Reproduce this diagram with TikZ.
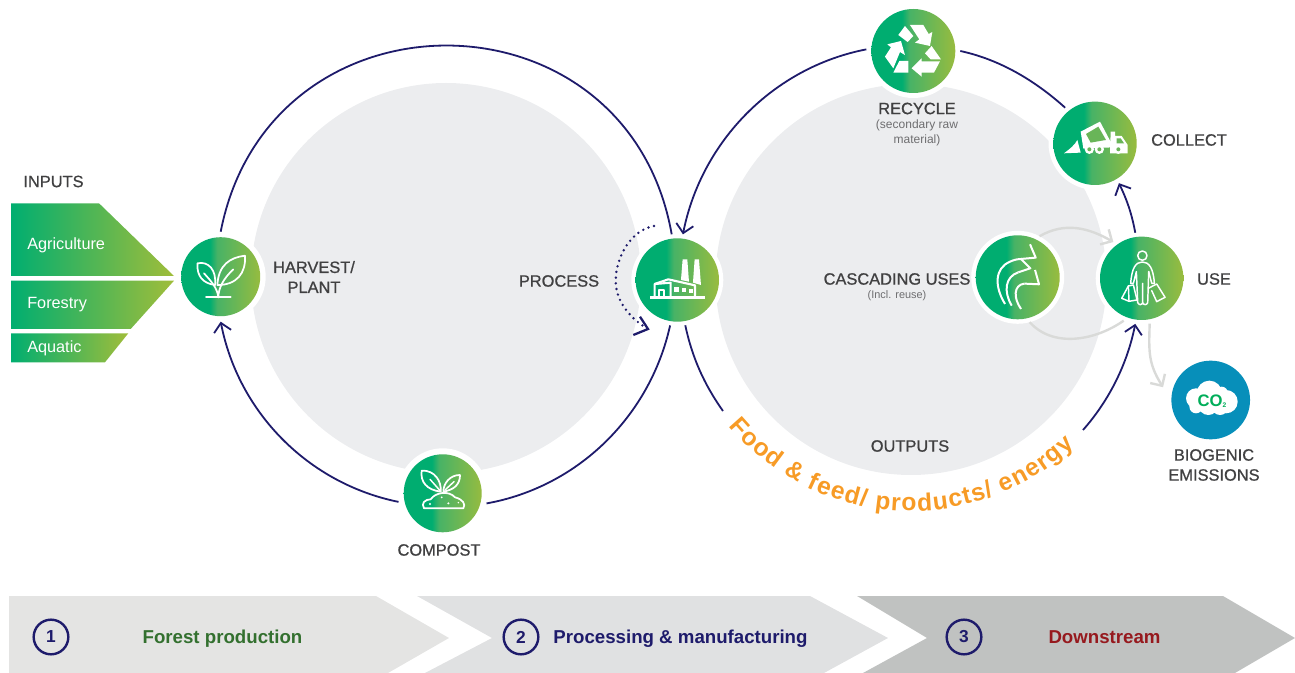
\documentclass[tikz,border=0pt]{standalone}
\usepackage{fontspec}
\usetikzlibrary{arrows.meta,decorations.text,calc}
\setmainfont{Liberation Sans}
\newfontfamily\labf[FakeBold=0.8]{Liberation Sans}
\newfontfamily\boldf{Liberation Sans Bold}
\definecolor{navyc}{RGB}{30,27,107}
\definecolor{greyd}{RGB}{236,237,239}
\definecolor{labc}{RGB}{64,64,65}
\definecolor{subc}{RGB}{110,110,112}
\definecolor{conn}{RGB}{217,218,216}
\definecolor{gstart}{RGB}{0,174,112}
\definecolor{gend}{RGB}{160,189,58}
\definecolor{gmid}{RGB}{105,181,88}
\definecolor{orangec}{RGB}{247,155,38}
\definecolor{coblue}{RGB}{7,143,186}
\definecolor{cogreen}{RGB}{0,174,90}
\definecolor{bandone}{RGB}{228,228,227}
\definecolor{bandtwo}{RGB}{224,225,226}
\definecolor{bandthree}{RGB}{192,194,193}
\pgfdeclarehorizontalshading{gf}{100bp}{rgb(0bp)=(0,0.68,0.44);rgb(25bp)=(0,0.68,0.44);rgb(44bp)=(0,0.68,0.44);rgb(48bp)=(0.28,0.70,0.40);rgb(75bp)=(0.63,0.74,0.23);rgb(100bp)=(0.63,0.74,0.23)}
\tikzset{
 x=0.75pt,y=0.75pt,
 disc/.style={fill=greyd,draw=none},
 ring/.style={draw=navyc,line width=1.35pt},
 ringa/.style={ring,-{Straight Barb[length=6.5pt,width=13pt,line width=1.35pt]}},
 greyc/.style={draw=conn,line width=1.8pt},
 greya/.style={greyc,-{Straight Barb[length=6.5pt,width=13pt,line width=1.8pt]}},
 gnode/.style args={#1 and #2}{circle,inner sep=0pt,outer sep=0pt,minimum size=#2*0.75pt*2,fill=white,
   path picture={\shade[shading=gf] (0,0) circle (#1*0.75pt);}},
 lab/.style={text=labc,font=\labf\fontsize{12.3pt}{15pt}\selectfont,inner sep=0pt,align=center},
 sublab/.style={text=subc,font=\fontsize{9pt}{11.2pt}\selectfont,inner sep=0pt,align=center},
 inlab/.style={text=white,font=\fontsize{12.2pt}{14pt}\selectfont,inner sep=0pt,anchor=west},
 bandtext/.style={font=\boldf\fontsize{14pt}{15pt}\selectfont,inner sep=0pt,anchor=base},
 numc/.style={circle,draw=navyc,line width=1.8pt,minimum size=26pt,inner sep=0pt,text=navyc,font=\boldf\fontsize{13pt}{15pt}\selectfont},
 ico/.style={draw=white,line width=1.3pt,line join=round,line cap=round},
 icot/.style={draw=white,line width=1.1pt,line join=round,line cap=round},
 icof/.style={fill=white,draw=none},
}
\newcommand{\inputshape}[1]{\shade[left color=gstart,right color=gend] #1;}
\begin{document}
\begin{tikzpicture}
\useasboundingbox (0,-673) rectangle (1295,0);
% grey discs
\fill[disc] (446,-278) circle (195);
\fill[disc] (911,-279.5) circle (195.5);
% named nodes
\node[gnode=39.5 and 45] (harvest) at (220.7,-276.7) {};
\node[gnode=41.7 and 46] (process) at (677.3,-280) {};
\node[gnode=39 and 45] (compost) at (442.7,-493.3) {};
\node[gnode=42 and 47] (recycle) at (913.3,-51) {};
\node[gnode=41.7 and 46.5] (collect) at (1095,-143.3) {};
\node[gnode=41.7 and 46] (use) at (1141.7,-278.3) {};
\node[gnode=42 and 46.5] (cascade) at (1017.7,-277.3) {};
\node[circle,fill=coblue,minimum size=59pt,inner sep=0pt,outer sep=7.5pt] (co2) at (1210.7,-400) {};
\coordinate (outl) at (723,-411);
\coordinate (outr) at (1083,-430);
\coordinate (dota) at (654,-226);
\coordinate (dotb) at (648,-329);
\coordinate (dotc) at (615.7,-281);
% rings
\draw[ring] (harvest.90) to[out=79,in=100,looseness=1.44] (process.97);
\draw[ringa] (compost.191) to[out=168.5,in=-79,looseness=.93] (harvest.-90);
\draw[ring] (process.-99) to[out=-102.5,in=10.2,looseness=.93] (compost.-13);
\draw[ringa] (recycle.178) to[out=191,in=78.8,looseness=.93] (process.83);
\draw[ring] (collect.130) to[out=138,in=-12.2,looseness=.87] (recycle.0);
\draw[ringa] (use.98) to[out=101,in=-65] (collect.-59);
\draw[ring] (process.-80) to[out=-78,in=125.3,looseness=.9] (outl);
\draw[ringa] (outr) to[out=48.5,in=258.6,looseness=.87] (use.-98);
\draw[draw=navyc,line width=2pt,line cap=round,dash pattern=on 0pt off 4.3pt] (dota) to[out=190,in=90,looseness=.9] (dotc) to[out=-90,in=150,looseness=.9] (dotb);
\draw[draw=navyc,line width=1.7pt] (633.3,-335) -- (dotb) -- (640,-316.7);
% grey connectors
\draw[greya] (cascade.62) to[out=30,in=150,looseness=1] (use.128);
\draw[greyc] (cascade.-75) to[out=-48,in=215,looseness=.95] (use.-113);
\draw[greya] (use.-80) to[out=-92,in=122,looseness=1.1] (co2.165);
% input shapes
\inputshape{(11,-203.3) -- (99,-203.3) -- (174,-276) -- (11,-276) -- cycle}
\inputshape{(11,-280.7) -- (174,-280.7) -- (130.7,-329) -- (11,-329) -- cycle}
\inputshape{(11,-333.3) -- (128.3,-333.3) -- (105,-362.3) -- (11,-362.3) -- cycle}
\node[inlab] (agri) at (27,-245.5) {Agriculture};
\node[inlab] (fore) at (27,-304.5) {Forestry};
\node[inlab] (aqua) at (27,-348.5) {Aquatic};
% labels
\node[lab] (inputs) at (53.5,-181.5) {INPUTS};
\node[lab] (harvestl) at (314,-277) {HARVEST/\\PLANT};
\node[lab] (processl) at (559,-281) {PROCESS};
\node[lab] (compostl) at (439,-550) {COMPOST};
\node[lab] (recyclel) at (917,-108.5) {RECYCLE};
\node[sublab] (recycles) at (917,-133) {(secondary raw\\material)};
\node[lab] (collectl) at (1189,-140) {COLLECT};
\node[lab] (casl) at (897,-279) {CASCADING USES};
\node[sublab,font=\fontsize{8.2pt}{10pt}\selectfont] (cass) at (897,-295.5) {(Incl. reuse)};
\node[lab] (usel) at (1214,-279) {USE};
\node[lab] (outputs) at (910,-446) {OUTPUTS};
\node[lab] (bio) at (1214,-465) {BIOGENIC\\EMISSIONS};
% curved text
\path[decorate,decoration={text along path,text format delimiters={|}{|},
  text={|\boldf\fontsize{18.5pt}{18.5pt}\selectfont\color{orangec}|Food {\&} feed/ products/ energy},
  text align={fit to path}}]
  ($(911,-273)+(220:238)$) arc[start angle=220,end angle=313.5,radius=238];
% bottom band
\fill[bandone] (9,-596) -- (376,-596) -- (449,-638) -- (388,-673) -- (9,-673) -- cycle;
\fill[bandtwo] (417,-596) -- (810,-596) -- (888,-638) -- (824,-673) -- (425,-673) -- (492,-638) -- cycle;
\fill[bandthree] (857,-596) -- (1223,-596) -- (1295,-638) -- (1235,-673) -- (863,-673) -- (927,-638) -- cycle;
\node[numc] (n1) at (51,-637) {1};
\node[numc] (n2) at (521,-637) {2};
\node[numc] (n3) at (964,-637) {3};
\node[bandtext,text={rgb,255:red,51;green,112;blue,47}] (t1) at (222.5,-643) {Forest production};
\node[bandtext,text=navyc] (t2) at (680.5,-643) {Processing \& manufacturing};
\node[bandtext,text={rgb,255:red,150;green,25;blue,30}] (t3) at (1104.5,-643) {Downstream};
% ICON harvest
\begin{scope}[shift={(harvest)},x=0.25pt,y=-0.25pt,shift={(-662,-320)}]
\draw[ico] (735,257) .. controls (690,262) and (655,285) .. (652,345) .. controls (710,345) and (738,310) .. (735,257);
\draw[ico] (655,382) .. controls (655,355) and (670,325) .. (700,298);
\draw[ico] (592,280) .. controls (625,272) and (650,300) .. (645,345) .. controls (610,340) and (590,320) .. (592,280);
\draw[ico] (612,310) .. controls (635,335) and (652,355) .. (655,382);
\draw[ico] (618,382) -- (692,382);
\end{scope}
% ICON compost
\begin{scope}[shift={(compost)},x=0.25pt,y=-0.25pt,shift={(-188,-160)}]
\draw[ico] (132,205) .. controls (122,190) and (135,178) .. (152,178) .. controls (165,158) and (205,150) .. (225,172) .. controls (248,178) and (258,192) .. (250,205) -- cycle;
\draw[ico] (125,92) .. controls (165,90) and (185,125) .. (182,155) .. controls (140,150) and (120,125) .. (125,92);
\draw[ico] (240,105) .. controls (210,105) and (190,130) .. (190,155) .. controls (220,150) and (240,135) .. (240,105);
\draw[icot] (150,118) -- (180,152);
\draw[icot] (222,125) -- (195,150);
\fill[white] (185,172) circle (3) (150,192) circle (3.5) (205,190) circle (3.5) (235,188) circle (2.5);
\end{scope}
% ICON factory
\begin{scope}[shift={(process)},x=0.25pt,y=-0.25pt,shift={(-232,-210)}]
\fill[icof] (243,210) -- (248,148) -- (262,148) -- (267,215) -- cycle;
\fill[icof] (279,218) -- (284,148) -- (297,148) -- (303,225) -- cycle;
\fill[icof] (150,257) rectangle (315,267);
\draw[ico,line width=1.6pt] (164,257) -- (164,222) -- (205,208) -- (285,226) -- (285,257);
\draw[ico,line width=1.6pt] (165,222) -- (212,218) -- (212,257);
\draw[ico] (178,257) -- (178,241) -- (192,241) -- (192,257);
\fill[icof] (222,232) rectangle (236,245);
\fill[icof] (247,234) rectangle (258,246);
\fill[icof] (267,236) rectangle (278,248);
\end{scope}
% ICON recycle
\begin{scope}[shift={(recycle)},x=0.25pt,y=-0.25pt,shift={(-160,-153)}]
\fill[icof] (115,105) -- (135,78) -- (160,108) -- (143,126) -- cycle;
\fill[icof] (150,75) -- (190,75) -- (206,102) -- (217,96) -- (210,138) -- (165,128) -- (178,118) -- cycle;
\fill[icof] (195,160) -- (215,138) -- (243,178) -- (212,178) -- cycle;
\fill[icof] (240,184) -- (222,218) -- (185,218) -- (185,230) -- (155,205) -- (185,175) -- (185,184) -- cycle;
\fill[icof] (100,205) -- (75,170) -- (93,142) -- (82,133) -- (123,123) -- (135,165) -- (120,156) -- cycle;
\fill[icof] (100,218) -- (118,183) -- (145,183) -- (145,218) -- cycle;
\end{scope}
% ICON truck
\begin{scope}[shift={(collect)},x=0.25pt,y=-0.25pt,shift={(-105,-100)}]
\fill[icof] (12,130) .. controls (28,118) and (45,105) .. (52,90) -- (62,128) -- cycle;
\fill[icof] (62,65) -- (120,35) -- (150,92) -- (158,100) -- (160,112) -- (70,116) -- cycle;
\fill[gmid] (78,72) -- (115,50) -- (138,90) -- (92,98) -- cycle;
\fill[icof] (152,65) -- (165,65) -- (165,78) -- (185,78) -- (203,105) -- (203,130) -- (150,130) -- cycle;
\fill[gmid] (170,85) -- (182,85) -- (192,100) -- (170,100) -- cycle;
\fill[icof] (88,118) circle (14) (118,118) circle (14) (175,118) circle (14);
\fill[gmid] (88,118) circle (6) (118,118) circle (6) (175,118) circle (6);
\end{scope}
% ICON person
\begin{scope}[shift={(use)},x=0.25pt,y=-0.25pt,shift={(-110,-115)}]
\draw[icot] (112,47) circle (14);
\draw[icot] (77,130) .. controls (80,85) and (92,66) .. (112,66) .. controls (132,66) and (145,85) .. (148,130) -- (140,130) -- (131,95);
\draw[icot] (77,130) -- (85,130) -- (94,95) -- (98,188) .. controls (102,196) and (110,196) .. (113,188) -- (113,130) -- (113,188) .. controls (116,196) and (125,196) .. (128,188) -- (131,95);
\draw[icot] (50,175) -- (70,138) -- (85,135) -- (96,180) -- (72,184) -- cycle;
\draw[icot] (70,138) -- (72,184);
\draw[icot] (130,145) -- (155,132) -- (180,172) -- (155,185) -- (140,152);
\end{scope}
% ICON cascade
\begin{scope}[shift={(cascade)},x=0.25pt,y=-0.25pt,shift={(-98,-127)}]
\draw[ico,line width=1.5pt,line cap=butt] (60,207) .. controls (28,155) and (28,100) .. (75,80) .. controls (88,74) and (100,72) .. (110,72);
\draw[ico,line width=1.5pt,line cap=butt] (135,28) -- (152,68) -- (108,72) -- (136,100) -- (100,112);
\draw[ico,line width=1.5pt,line cap=butt] (80,212) .. controls (55,170) and (60,125) .. (100,112);
\draw[ico,line width=1.5pt,line cap=butt] (150,105) -- (162,148) -- (118,146);
\draw[ico,line width=1.5pt,line cap=butt] (108,222) .. controls (85,190) and (85,150) .. (118,146);
\end{scope}
% ICON cloud and text
\begin{scope}[shift={(co2)},x=0.25pt,y=-0.25pt,shift={(-782,-570)}]
\fill[white] (738,565) circle (30) (778,550) circle (38) (828,575) circle (35) (775,585) circle (30) (738,590) circle (20) (810,590) circle (25) (815,548) circle (18);
\end{scope}
\node[text=cogreen,font=\boldf\fontsize{12.5pt}{14pt}\selectfont,inner sep=0pt] (cotxt) at (1212,-401.5) {CO{\fontsize{5pt}{6pt}\selectfont\raisebox{-1pt}{2}}};
\end{tikzpicture}
\end{document}
